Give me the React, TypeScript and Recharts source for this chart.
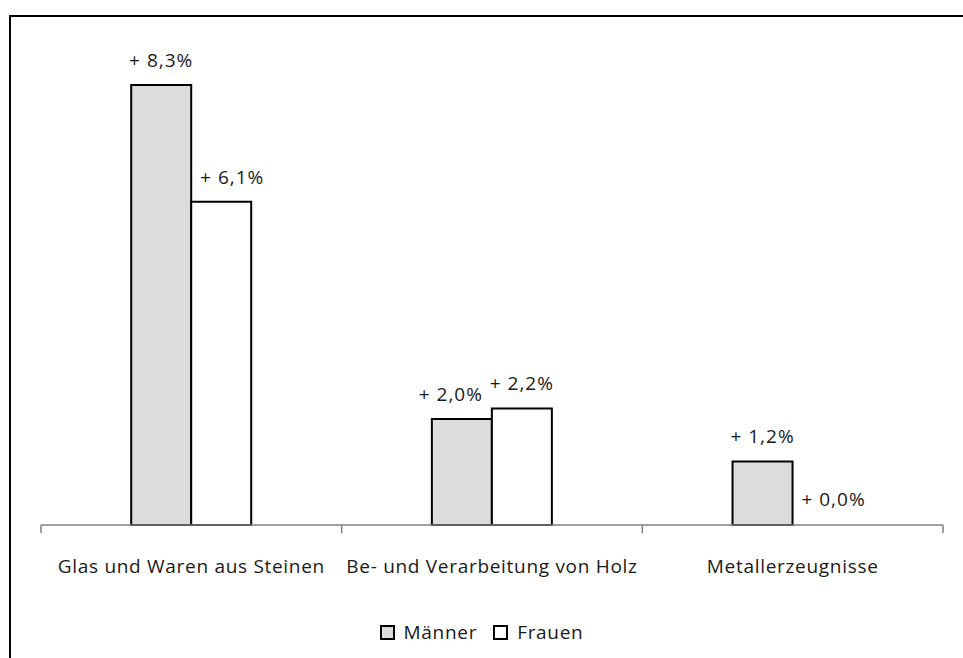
import React from "react";
import { Bar, BarChart, Cell, LabelList, XAxis, YAxis } from "recharts";

// Veränderung der Beschäftigung nach Branche, Männer vs. Frauen (in %).
const categories = [
  "Glas und Waren aus Steinen",
  "Be- und Verarbeitung von Holz",
  "Metallerzeugnisse",
];
const seriesNames = ["Männer", "Frauen"];
const maenner = [8.3, 2.0, 1.2];
const frauen = [6.1, 2.2, 0.0];

const data = categories.map((name, i) => ({ name, maenner: maenner[i], frauen: frauen[i] }));

const W = 963;
const H = 658;
const AXIS_H = 30;
const M = { top: 48, right: 20, bottom: 133 - AXIS_H, left: 41 };
const FONT = "'Open Sans', 'DejaVu Sans', sans-serif";
const FS = 19;
const LS = 0.7;
const TEXT = "#1a1a1a";
const FILLS = ["#dcdcdc", "#ffffff"];

const fmt = (v: number) => `+ ${v.toFixed(1).replace(".", ",")}%`;

/**
 * Value label above each bar. Like Excel, a label on the shorter bar of a pair
 * is nudged away from its taller neighbour so the two don't collide.
 */
function ValueLabel(props: any) {
  const { x, y, width, value, index, other, dir } = props;
  const nudge = value < other[index] ? dir * 11 : 0;
  return (
    <text
      x={x + width / 2 + nudge}
      y={y - 18}
      textAnchor="middle"
      fontFamily={FONT}
      fontSize={FS}
      letterSpacing={1}
      fill={TEXT}
    >
      {fmt(value)}
    </text>
  );
}

/** Category label plus Excel-style ticks on the category boundaries. */
function CategoryTick(props: any) {
  const { x, y, payload, index } = props;
  const band = (W - M.left - M.right) / categories.length;
  const left = x - band / 2;
  const right = x + band / 2;
  return (
    <g>
      <line x1={left} y1={y - 8} x2={left} y2={y} stroke="#808080" strokeWidth={1.5} />
      {index === categories.length - 1 && (
        <line x1={right} y1={y - 8} x2={right} y2={y} stroke="#808080" strokeWidth={1.5} />
      )}
      <text
        x={x}
        y={y + 40}
        textAnchor="middle"
        fontFamily={FONT}
        fontSize={FS}
        letterSpacing={LS}
        fill={TEXT}
      >
        {payload.value}
      </text>
    </g>
  );
}

function LegendBox() {
  return (
    <div
      style={{
        position: "absolute",
        left: 0,
        top: 619,
        width: W,
        display: "flex",
        justifyContent: "center",
        gap: 16,
        fontFamily: FONT,
        fontSize: FS,
        letterSpacing: LS,
        color: TEXT,
        lineHeight: "26px",
      }}
    >
      {seriesNames.map((n, i) => (
        <span key={n} style={{ display: "flex", alignItems: "center" }}>
          <span
            style={{
              width: 11,
              height: 11,
              border: "2px solid #000",
              background: FILLS[i],
              marginRight: 9,
              display: "inline-block",
            }}
          />
          {n}
        </span>
      ))}
    </div>
  );
}

export default function App() {
  return (
    <div
      style={{
        position: "fixed",
        left: 0,
        top: 0,
        width: W,
        height: H,
        overflow: "hidden",
        background: "#fff",
      }}
    >
      <div
        style={{
          position: "absolute",
          left: 9,
          top: 15,
          width: 1200,
          height: 900,
          borderTop: "2px solid #000",
          borderLeft: "2px solid #000",
        }}
      />
      <div style={{ position: "absolute", left: 0, top: 0 }}>
        <BarChart
          width={W}
          height={H}
          data={data}
          margin={M}
          barCategoryGap="30%"
          barGap={0}
        >
          <XAxis
            dataKey="name"
            height={AXIS_H}
            axisLine={{ stroke: "#808080", strokeWidth: 1.5 }}
            tickLine={false}
            tick={<CategoryTick />}
            interval={0}
          />
          <YAxis hide domain={[0, 9]} />
          <Bar
            dataKey="maenner"
            name={seriesNames[0]}
            fill={FILLS[0]}
            stroke="#000"
            strokeWidth={2}
            isAnimationActive={false}
          >
            <LabelList dataKey="maenner" content={<ValueLabel other={frauen} dir={-1} />} />
          </Bar>
          <Bar
            dataKey="frauen"
            name={seriesNames[1]}
            fill={FILLS[1]}
            stroke="#000"
            strokeWidth={2}
            minPointSize={1}
            isAnimationActive={false}
          >
            {frauen.map((v, i) => (
              <Cell
                key={i}
                fill={v === 0 ? "transparent" : FILLS[1]}
                stroke={v === 0 ? "none" : "#000"}
              />
            ))}
            <LabelList dataKey="frauen" content={<ValueLabel other={maenner} dir={1} />} />
          </Bar>
        </BarChart>
      </div>
      <LegendBox />
    </div>
  );
}
